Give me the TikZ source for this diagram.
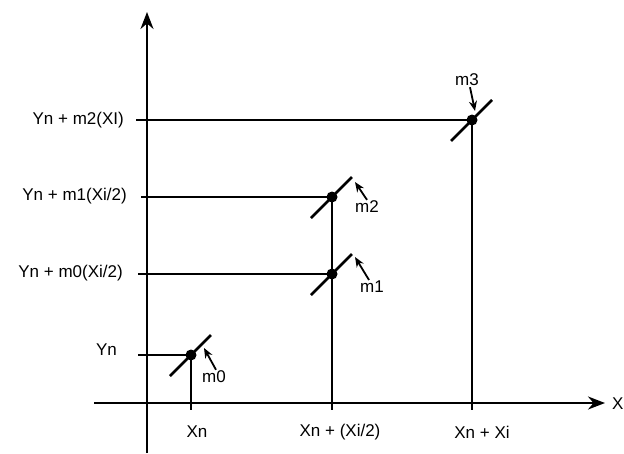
\documentclass[tikz,border=0pt]{standalone}
\usepackage{fontspec}
\setmainfont{Liberation Sans}
\usetikzlibrary{arrows.meta,positioning}

\begin{document}
\begin{tikzpicture}[x=1pt,y=-1pt,>=Stealth,
			every node/.style={font=\fontsize{17}{20}\selectfont,inner sep=1pt},
			guide/.style={line width=2.2pt},
			axis/.style={line width=2.2pt,-{Stealth[length=17pt,width=13pt]}},
			slope/.style={line width=2.8pt},
			dot/.style={circle,fill,inner sep=0pt,minimum size=11pt},
			tagarrow/.style={line width=1.8pt,-{Stealth[length=10pt,width=8pt]}}]
			\useasboundingbox (0,0) rectangle (624,453);
			% axes
			\coordinate (ybot) at (147,453);
			\coordinate (ytop) at (147,12);
			\coordinate (xleft) at (94,403);
			\coordinate (xright) at (605,403);
			\draw[axis] (ybot) -- (ytop);
			\draw[axis] (xleft) -- (xright);
			\node[anchor=west] (xlab) at (611,404) {X};
			% points of the step
			\node[dot] (p0) at (191,355) {};
			\node[dot] (p1) at (332,274) {};
			\node[dot] (p2) at (332,197) {};
			\node[dot] (p3) at (472,120) {};
			\foreach \p in {p0,p1,p2,p3}
			{\draw[slope] ([shift={(-21,21)}]\p.center) -- ([shift={(20,-20)}]\p.center);}
			% guide lines to the axes
			\coordinate (h0) at (138,355);
			\coordinate (h1) at (138,274);
			\coordinate (h2) at (141,197);
			\coordinate (h3) at (136,120);
			\coordinate (v0) at (191,410);
			\coordinate (v2) at (332,410);
			\coordinate (v3) at (472,410);
			\foreach \a/\b in {h0/p0,h1/p1,h2/p2,h3/p3,p0/v0,p2/v2,p3/v3}
			{\draw[guide] (\a.center) -- (\b.center);}
			% axis labels
			\node[anchor=east] (yn) at (118,350) {Yn};
			\node[anchor=east] (y1) at (124,273) {Yn + m0(Xi/2)};
			\node[anchor=east] (y2) at (128,196) {Yn + m1(Xi/2)};
			\node[anchor=east] (y3) at (125,120) {Yn + m2(XI)};
			\node (xn) at (197,432) {Xn};
			\node (xhalf) at (340,432) {Xn + (Xi/2)};
			\node (xfull) at (482,432) {Xn + Xi};
			% slope tags
			\node (t0) at (214,377) {m0};
			\node (t1) at (372,287) {m1};
			\node (t2) at (367,207) {m2};
			\node (t3) at (467,80) {m3};
			\coordinate (k0) at (204,348);
			\coordinate (k1) at (355,257);
			\coordinate (k2) at (355,182);
			\coordinate (k3) at (475,111);
			\draw[tagarrow] ([xshift=2pt]t0.north) -- (k0);
			\draw[tagarrow] ([xshift=-3pt]t1.north) -- (k1);
			\draw[tagarrow] (t2.north) -- (k2);
			\draw[tagarrow] ([xshift=3pt]t3.south) -- (k3);
		\end{tikzpicture}
\end{document}
